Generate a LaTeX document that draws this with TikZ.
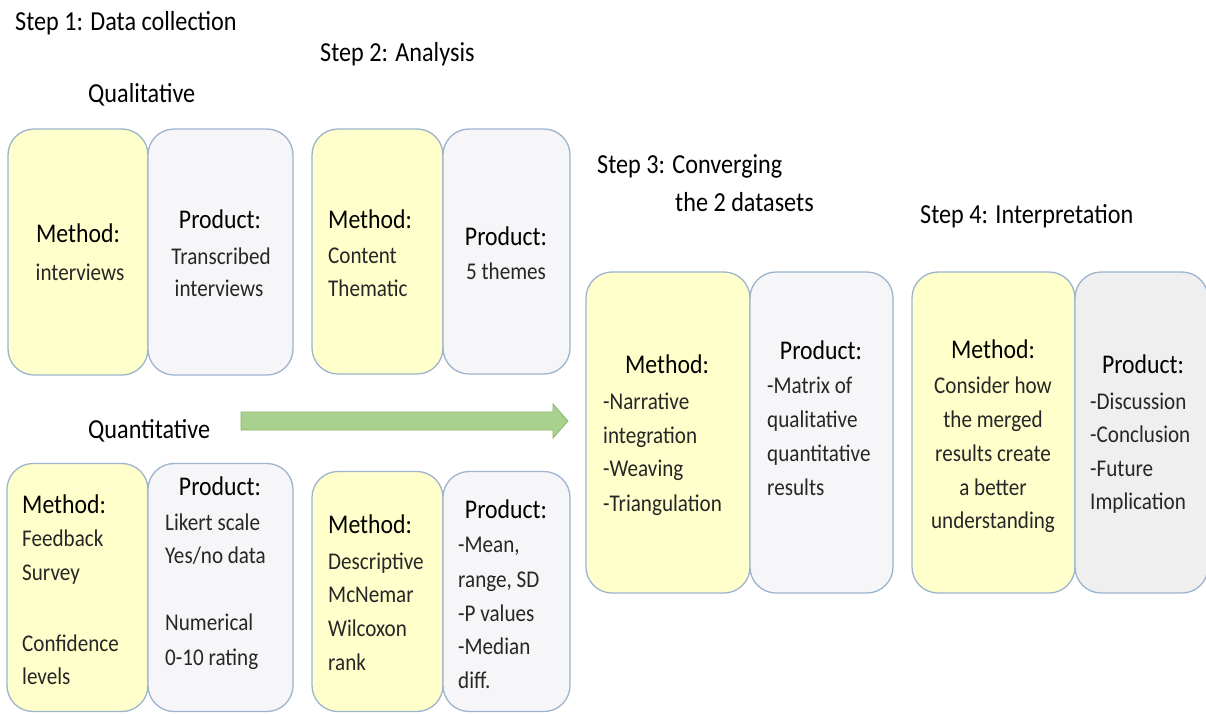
\documentclass[tikz,border=0pt]{standalone}
\usepackage{fontspec}
\setmainfont{Carlito}[FakeStretch=0.88]
\definecolor{boxyellow}{HTML}{FFFFCC}
\definecolor{boxgray}{HTML}{F6F6F8}
\definecolor{boxgrayd}{HTML}{EFEFEF}
\definecolor{boxline}{HTML}{9CB4CE}
\definecolor{arrowfill}{HTML}{A9D18E}
\definecolor{arrowline}{HTML}{8CB56F}
\definecolor{txt}{HTML}{262626}
\tikzset{
  panel/.style={draw=boxline, line width=1.3pt, rounded corners=26pt, inner sep=0pt, rectangle},
  meth/.style={panel, fill=boxyellow},
  prod/.style={panel, fill=boxgray},
  prodd/.style={panel, fill=boxgrayd},
  head/.style={font=\fontsize{27}{33}\selectfont, text=black, inner sep=0pt, yshift=-6.5pt},
  hd/.style={head, anchor=mid},
  hdw/.style={head, anchor=mid west},
  bd/.style={font=\fontsize{24}{33}\selectfont, text=txt, inner sep=0pt, anchor=mid, yshift=-6.5pt},
  bdw/.style={font=\fontsize{24}{33}\selectfont, text=txt, inner sep=0pt, anchor=mid west, yshift=-6.5pt},
  ttl/.style={font=\fontsize{27.5}{33}\selectfont, text=black, inner sep=0pt, anchor=mid west, yshift=-6pt}
}
\begin{document}
\begin{tikzpicture}[x=1pt,y=-1pt]
\useasboundingbox (0,0) rectangle (1206,713);
\clip (0,0) rectangle (1206,713);
\fill[white] (0,0) rectangle (1206,713);

% titles
\node[ttl] (t1) at (15,22) {Step 1: Data collection};
\node[ttl] (t2) at (320,53) {Step 2: Analysis};
\node[ttl] (tq) at (88,94) {Qualitative};
\node[ttl] (t3) at (597,165) {Step 3: Converging};
\node[ttl] (t3b) at (675,203) {the 2 datasets};
\node[ttl] (t4) at (920,215) {Step 4: Interpretation};
\node[ttl] (tn) at (88,430) {Quantitative};

% boxes
\node[meth, minimum width=140pt, minimum height=246pt] (A) at (78,252) {};
\node[prod, minimum width=145pt, minimum height=246pt] (B) at (220.5,252) {};
\node[meth, minimum width=131pt, minimum height=245pt] (C) at (377.5,251.5) {};
\node[prod, minimum width=127pt, minimum height=245pt] (D) at (506.5,251.5) {};
\node[meth, minimum width=141pt, minimum height=248pt] (E) at (77.5,587.5) {};
\node[prod, minimum width=145pt, minimum height=248pt] (F) at (220.5,587.5) {};
\node[meth, minimum width=131pt, minimum height=240pt] (G) at (377.5,591.5) {};
\node[prod, minimum width=127pt, minimum height=240pt] (H) at (506.5,591.5) {};
\node[meth, minimum width=164pt, minimum height=321pt] (I) at (668,432.5) {};
\node[prod, minimum width=143pt, minimum height=321pt] (J) at (821.5,432.5) {};
\node[meth, minimum width=163pt, minimum height=321pt] (K) at (993.5,432.5) {};
\node[prodd, minimum width=133pt, minimum height=321pt] (L) at (1141.5,432.5) {};

% arrow
\coordinate (arrS) at (241,421);
\coordinate (arrE) at (568,421);
\draw[draw=arrowline, fill=arrowfill, line width=0.8pt, line join=miter]
  (arrS) ++(0,-9) -- (553,412) -- (553,404) -- (arrE) -- (553,438) -- (553,430) -- (241,430) -- cycle;

% box A
\node[hd] (a1) at (78,234) {Method:};
\node[bd] (a2) at (80,272) {interviews};
% box B
\node[hd] (b1) at (220,220) {Product:};
\node[bd] (b2) at (221,256) {Transcribed};
\node[bd] (b3) at (219,288) {interviews};
% box C
\node[hdw] (c1) at (328,220) {Method:};
\node[bdw] (c2) at (328,255) {Content};
\node[bdw] (c3) at (328,288) {Thematic};
% box D
\node[hd] (d1) at (506,237) {Product:};
\node[bd] (d2) at (506,271) {5 themes};
% box E
\node[hdw] (e1) at (22,505) {Method:};
\node[bdw] (e2) at (22,538) {Feedback};
\node[bdw] (e3) at (22,572) {Survey};
\node[bdw] (e4) at (22,643) {Confidence};
\node[bdw] (e5) at (22,676) {levels};
% box F
\node[hd] (f1) at (220,487) {Product:};
\node[bdw] (f2) at (165,522) {Likert scale};
\node[bdw] (f3) at (165,555) {Yes/no data};
\node[bdw] (f4) at (165,622) {Numerical};
\node[bdw] (f5) at (165,657) {0-10 rating};
% box G
\node[hdw] (g1) at (328,525) {Method:};
\node[bdw] (g2) at (328,561) {Descriptive};
\node[bdw] (g3) at (328,594) {McNemar};
\node[bdw] (g4) at (328,628) {Wilcoxon};
\node[bdw] (g5) at (328,662) {rank};
% box H
\node[hd] (h1) at (506,510) {Product:};
\node[bdw] (h2) at (458,544) {-Mean,};
\node[bdw] (h3) at (458,579) {range, SD};
\node[bdw] (h4) at (458,613) {-P values};
\node[bdw] (h5) at (458,646) {-Median};
\node[bdw] (h6) at (458,680) {diff.};
% box I
\node[hd] (i1) at (667,365) {Method:};
\node[bdw] (i2) at (603,401) {-Narrative};
\node[bdw] (i3) at (603,435) {integration};
\node[bdw] (i4) at (603,468) {-Weaving};
\node[bdw] (i5) at (603,503) {-Triangulation};
% box J
\node[hd] (j1) at (821,351) {Product:};
\node[bdw] (j2) at (767,385) {-Matrix of};
\node[bdw] (j3) at (767,419) {qualitative};
\node[bdw] (j4) at (767,453) {quantitative};
\node[bdw] (j5) at (767,487) {results};
% box K
\node[hd] (k1) at (993,350) {Method:};
\node[bd] (k2) at (993,385) {Consider how};
\node[bd] (k3) at (993,419) {the merged};
\node[bd] (k4) at (993,453) {results create};
\node[bd] (k5) at (993,487) {a better};
\node[bd] (k6) at (993,520) {understanding};
% box L
\node[hd] (l1) at (1143,365) {Product:};
\node[bdw] (l2) at (1090,401) {-Discussion};
\node[bdw] (l3) at (1090,434) {-Conclusion};
\node[bdw] (l4) at (1090,468) {-Future};
\node[bdw] (l5) at (1090,501) {Implication};
\end{tikzpicture}
\end{document}
